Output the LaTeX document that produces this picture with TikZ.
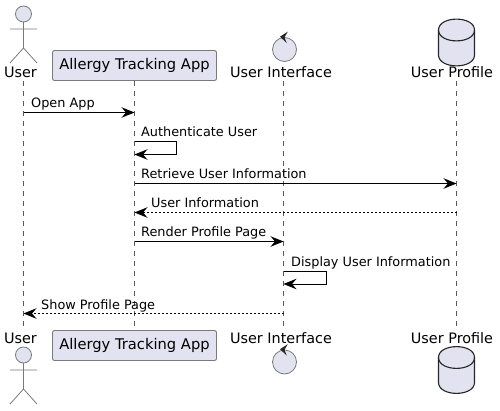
\documentclass[tikz,border=0pt]{standalone}
\usepackage{fontspec}
\setmainfont{DejaVu Sans}
\usetikzlibrary{arrows.meta}
\definecolor{partfill}{HTML}{E2E2F0}
\definecolor{partline}{HTML}{7A7A7A}
\tikzset{
    lifeline/.style={draw=black!65, line width=0.6pt, dash pattern=on 5pt off 5pt},
    msg/.style={draw=black, line width=0.9pt, -{Stealth[length=13pt,width=10.5pt,inset=4.5pt]}},
    reply/.style={msg, dash pattern=on 2pt off 2pt},
    msglabel/.style={anchor=base west, inner sep=0pt, font=\fontsize{12.85}{15}\selectfont},
    partlabel/.style={anchor=base, inner sep=0pt, font=\fontsize{14.4}{16}\selectfont},
    appbox/.style={draw=partline, fill=partfill, line width=0.9pt, rounded corners=2pt,
        minimum width=164pt, minimum height=30pt, inner sep=0pt, font=\fontsize{14.7}{16}\selectfont},
    actorfig/.pic={
        \draw[draw=partline, fill=partfill, line width=0.8pt] (0,0) circle (8);
        \draw[draw=partline, line width=0.8pt] (0,8) -- (0,34) (-13.5,15) -- (13.5,15)
            (-13.5,49) -- (0,34) -- (13.5,49);
    },
    controlfig/.pic={
        \draw[draw=partline, fill=partfill, line width=0.8pt] (0,0) circle (12);
        \fill[black!85] (-4.5,-12.8) -- (3.2,-17.8) -- (0,-12) -- (2.2,-6.5) -- cycle;
    },
    dbfig/.pic={
        \draw[draw=black!85, fill=partfill, line width=1.1pt] (-18,11) .. controls (-18,-3.5) and (18,-3.5) .. (18,11)
            -- (18,36) .. controls (18,50.5) and (-18,50.5) .. (-18,36) -- cycle;
        \draw[draw=black!85, line width=1.1pt] (-18,11) .. controls (-18,25.5) and (18,25.5) .. (18,11);
    },
}
\begin{document}
\begin{tikzpicture}[x=1pt, y=-1pt]
    \useasboundingbox (0,0) rectangle (500,411);
    % lifelines
    \coordinate (userTop) at (23.5,81);
    \coordinate (userBot) at (23.5,330);
    \coordinate (appTop) at (134.5,81);
    \coordinate (appBot) at (134.5,330);
    \coordinate (uiTop) at (283.5,81);
    \coordinate (uiBot) at (283.5,330);
    \coordinate (dbTop) at (456.5,81);
    \coordinate (dbBot) at (456.5,330);
    \draw[lifeline] (userTop) -- (userBot);
    \draw[lifeline] (appTop) -- (appBot);
    \draw[lifeline] (uiTop) -- (uiBot);
    \draw[lifeline] (dbTop) -- (dbBot);
    % participants, top
    \pic at (23.5,14) {actorfig};
    \node[partlabel] (userHead) at (20.5,78) {User};
    \node[appbox] (appHead) at (134.5,65.5) {Allergy Tracking App};
    \pic at (284.5,49.5) {controlfig};
    \node[partlabel] (uiHead) at (281,78) {User Interface};
    \pic at (456.5,19) {dbfig};
    \node[partlabel] (dbHead) at (452,78) {User Profile};
    % participants, bottom
    \node[partlabel] (userFoot) at (20.5,343) {User};
    \pic at (23.5,355) {actorfig};
    \node[appbox] (appFoot) at (134.5,345.5) {Allergy Tracking App};
    \node[partlabel] (uiFoot) at (281,343) {User Interface};
    \pic at (284.5,362) {controlfig};
    \node[partlabel] (dbFoot) at (452,343) {User Profile};
    \pic at (456.5,346.5) {dbfig};
    % messages
    \coordinate (m1a) at (23.5,112.5);
    \coordinate (m1b) at (134.5,112.5);
    \draw[msg] (m1a) -- (m1b);
    \node[msglabel] (m1) at (31,108) {Open App};
    \coordinate (m2a) at (134.5,141.5);
    \coordinate (m2b) at (134.5,154.5);
    \draw[msg] (m2a) -- (176.5,141.5) -- (176.5,154.5) -- (m2b);
    \node[msglabel] (m2) at (141,137) {Authenticate User};
    \coordinate (m3a) at (134.5,183.5);
    \coordinate (m3b) at (456.5,183.5);
    \draw[msg] (m3a) -- (m3b);
    \node[msglabel] (m3) at (141,179) {Retrieve User Information};
    \coordinate (m4a) at (456.5,212.5);
    \coordinate (m4b) at (134.5,212.5);
    \draw[reply] (m4a) -- (m4b);
    \node[msglabel] (m4) at (151,208) {User Information};
    \coordinate (m5a) at (134.5,241.5);
    \coordinate (m5b) at (283.5,241.5);
    \draw[msg] (m5a) -- (m5b);
    \node[msglabel] (m5) at (141,237) {Render Profile Page};
    \coordinate (m6a) at (283.5,271);
    \coordinate (m6b) at (283.5,284);
    \draw[msg] (m6a) -- (326,271) -- (326,284) -- (m6b);
    \node[msglabel] (m6) at (291,266.5) {Display User Information};
    \coordinate (m7a) at (283.5,313.5);
    \coordinate (m7b) at (23.5,313.5);
    \draw[reply] (m7a) -- (m7b);
    \node[msglabel] (m7) at (41,309) {Show Profile Page};
\end{tikzpicture}
\end{document}
